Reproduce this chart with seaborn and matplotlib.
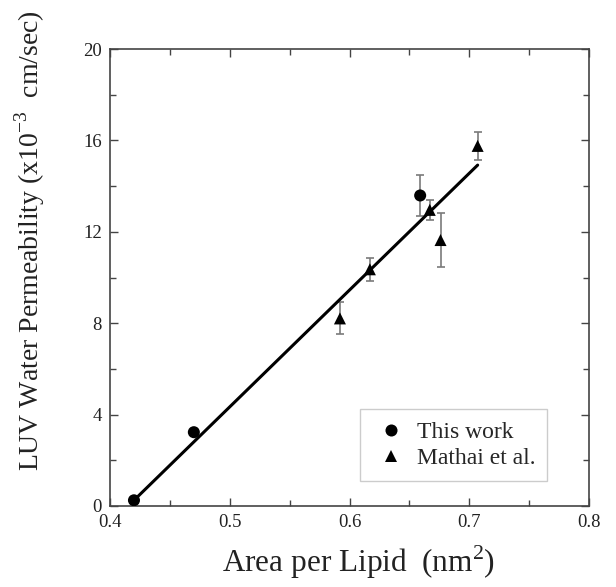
import matplotlib
matplotlib.use("Agg")
import matplotlib.pyplot as plt
import seaborn as sns
import pandas as pd
from matplotlib.ticker import MultipleLocator, FormatStrFormatter

# data
this_x = [0.420, 0.470, 0.659]
this_y = [0.25, 3.23, 13.59]
this_err = [0.0, 0.0, 0.9]

mathai_x = [0.592, 0.617, 0.667, 0.676, 0.707]
mathai_y = [8.21, 10.36, 12.96, 11.64, 15.76]
mathai_err = [0.70, 0.50, 0.44, 1.17, 0.60]

fit_x = [0.420, 0.707]
fit_y = [0.25, 14.92]

sns.set_theme(style="ticks")
plt.rcParams['font.family'] = ['Liberation Serif', 'DejaVu Serif']
plt.rcParams['mathtext.fontset'] = 'custom'
plt.rcParams['mathtext.rm'] = 'Liberation Serif'

df = pd.DataFrame({
    'x': this_x + mathai_x,
    'y': this_y + mathai_y,
    'err': this_err + mathai_err,
    'src': ['This work'] * len(this_x) + ['Mathai et al.'] * len(mathai_x),
})

fig = plt.figure(figsize=(6.16, 5.87), dpi=100)
ax = fig.add_axes([0.1786, 0.138, 0.7776, 0.7785])

# error bars (gray) first, then fit line, then markers
err_df = df[df['err'] > 0]
ax.errorbar(err_df['x'], err_df['y'], yerr=err_df['err'], fmt='none',
            ecolor='#7a7a7a', elinewidth=1.2, capsize=3, capthick=1.2, zorder=2)

sns.lineplot(x=fit_x, y=fit_y, color='black', linewidth=2.2, ax=ax, zorder=3)

sns.scatterplot(data=df, x='x', y='y', style='src',
                markers={'This work': 'o', 'Mathai et al.': '^'},
                color='black', s=75, edgecolor='black', linewidth=0,
                ax=ax, zorder=4)

ax.set_xlim(0.4, 0.8)
ax.set_ylim(0, 20)
ax.xaxis.set_major_locator(MultipleLocator(0.1))
ax.xaxis.set_minor_locator(MultipleLocator(0.05))
ax.xaxis.set_major_formatter(FormatStrFormatter('%.1f'))
ax.yaxis.set_major_locator(MultipleLocator(4))
ax.yaxis.set_minor_locator(MultipleLocator(2))
ax.tick_params(which='both', direction='in', top=True, right=True,
               colors='#444444', labelcolor='#222222', labelsize=13.5)
ax.tick_params(which='major', length=6, width=1, pad=6)
ax.tick_params(which='minor', length=4, width=1)
for sp in ax.spines.values():
    sp.set_color('#444444')
    sp.set_linewidth(1.2)

ax.set_xlabel('Area per Lipid  (nm$^2$)', fontsize=22.5, color='#222222')
ax.xaxis.set_label_coords(0.518, -0.081)
ax.xaxis.label.set_va('top')
ax.set_ylabel('LUV Water Permeability (x10$^{-3}$  cm/sec)', fontsize=20,
              color='#222222')
ax.yaxis.set_label_coords(-0.132, 0.582)

leg = ax.legend(loc='lower right', bbox_to_anchor=(0.912, 0.055), fontsize=17,
                frameon=True, fancybox=False, edgecolor='#cccccc', framealpha=1,
                handletextpad=0.3, handlelength=1.6, borderpad=0.5,
                labelspacing=0.2, borderaxespad=0, title=None)
leg.get_frame().set_linewidth(1)

fig.savefig('out.png', dpi=100)
